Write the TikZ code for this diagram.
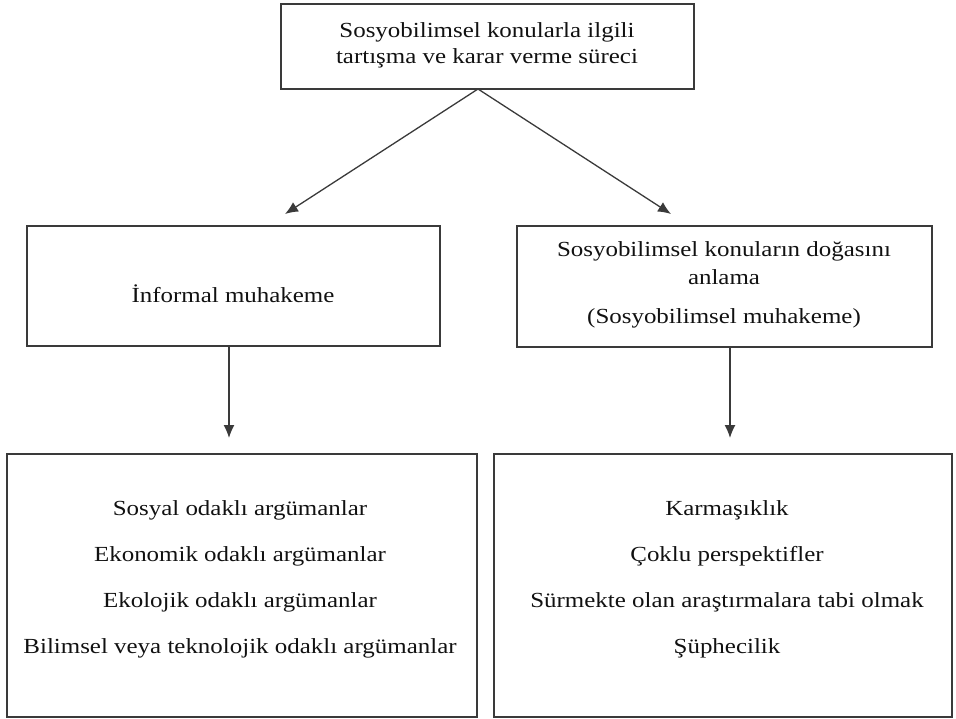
\documentclass[tikz,border=0pt]{standalone}
\usepackage{fontspec}
\setmainfont{Liberation Serif}[FakeStretch=1.16]
\usetikzlibrary{arrows.meta}
\definecolor{boxline}{HTML}{3A3A3A}
\definecolor{txt}{HTML}{111111}
\tikzset{
  boxnode/.style={draw=boxline, line width=1.9pt, rectangle, inner sep=0pt},
  lbl/.style={text=txt, align=center, inner sep=0pt},
  conn/.style={draw=boxline, line width=1.3pt, -{Latex[length=13pt,width=11pt]}}
}
\begin{document}
\begin{tikzpicture}[x=1pt,y=-1pt]
\useasboundingbox (0,0) rectangle (956,719);
% boxes
\node[boxnode, minimum width=413pt, minimum height=85pt] (top) at (487.5,46.5) {};
\node[boxnode, minimum width=413pt, minimum height=120pt] (lm) at (233.5,286) {};
\node[boxnode, minimum width=415pt, minimum height=121pt] (rm) at (724.5,286.5) {};
\node[boxnode, minimum width=470pt, minimum height=263pt] (lb) at (242,585.5) {};
\node[boxnode, minimum width=458pt, minimum height=263pt] (rb) at (723,585.5) {};
% texts
\node[lbl, font=\fontsize{21.5}{26}\selectfont] (ttop) at (487,45) {Sosyobilimsel konularla ilgili\\tartışma ve karar verme süreci};
\node[lbl, font=\fontsize{21.5}{26}\selectfont] (tlm) at (233,294) {İnformal muhakeme};
\node[lbl, font=\fontsize{21.5}{28}\selectfont] (trm) at (724,285) {Sosyobilimsel konuların doğasını\\anlama\\[11pt](Sosyobilimsel muhakeme)};
\node[lbl, font=\fontsize{21.5}{46}\selectfont] (tlb) at (240,579) {Sosyal odaklı argümanlar\\Ekonomik odaklı argümanlar\\Ekolojik odaklı argümanlar\\Bilimsel veya teknolojik odaklı argümanlar};
\node[lbl, font=\fontsize{21.5}{46}\selectfont] (trb) at (727,579) {Karmaşıklık\\Çoklu perspektifler\\Sürmekte olan araştırmalara tabi olmak\\Şüphecilik};
% connector ends
\coordinate (ts) at (478,89);
\coordinate (tipl) at (285,214);
\coordinate (tipr) at (671,214);
\coordinate (lms) at (229,346);
\coordinate (tiplb) at (229,438);
\coordinate (rms) at (730,347);
\coordinate (tiprb) at (730,438);
% connectors
\draw[conn] (ts) -- (tipl);
\draw[conn] (ts) -- (tipr);
\draw[conn] (lms) -- (tiplb);
\draw[conn] (rms) -- (tiprb);
\end{tikzpicture}
\end{document}
